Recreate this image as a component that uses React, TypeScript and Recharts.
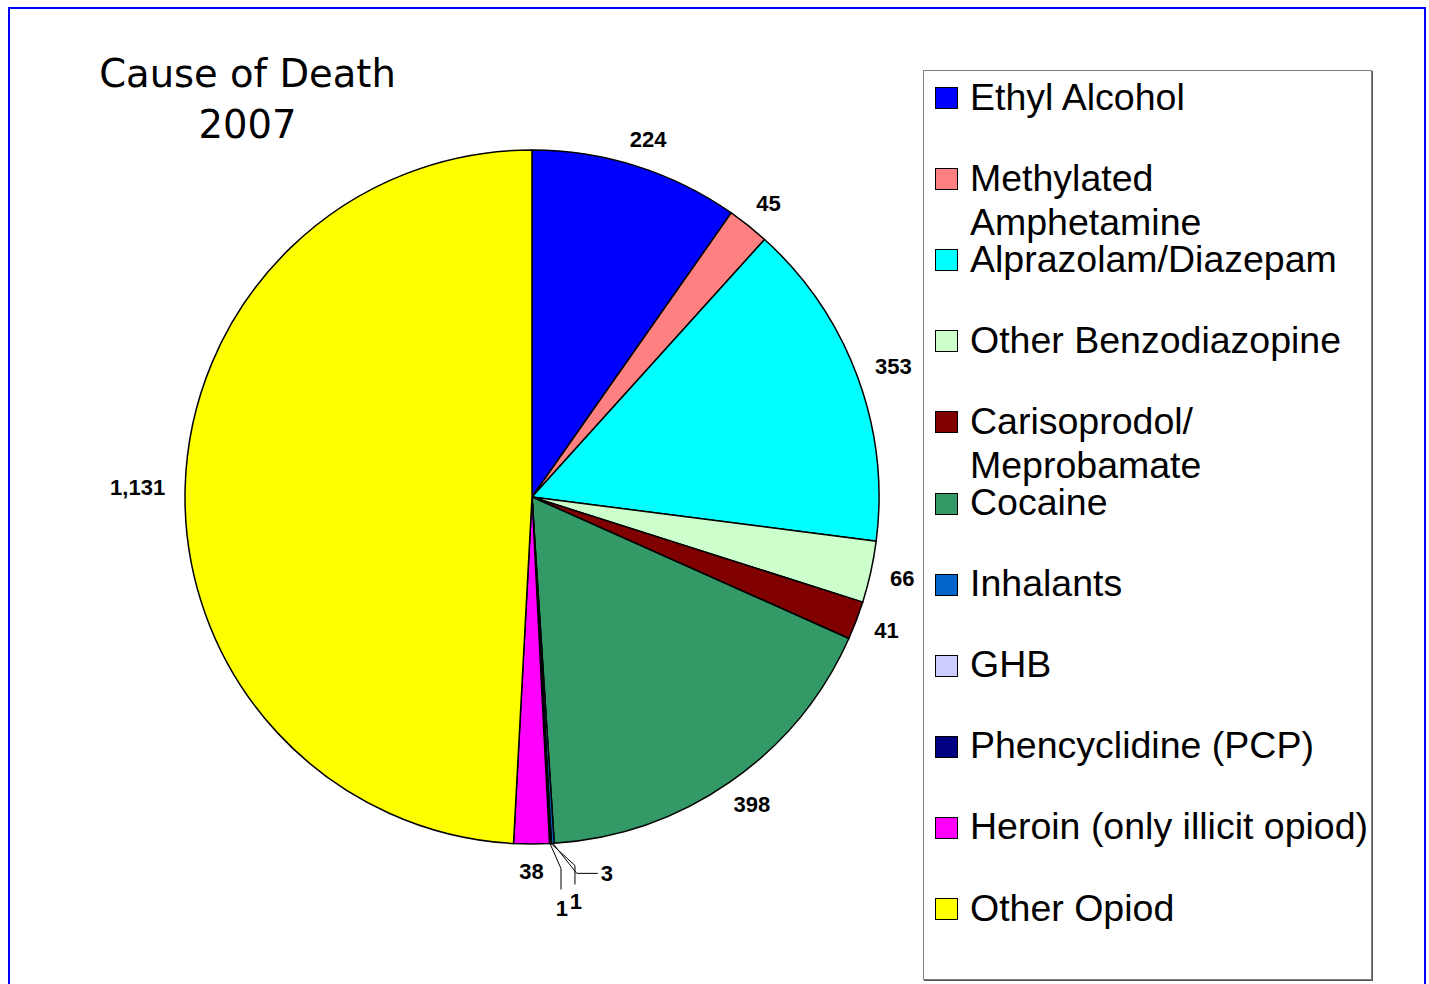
import { Cell, Legend, Pie, PieChart } from "recharts";

const causes = [
  "Ethyl Alcohol",
  "Methylated Amphetamine",
  "Alprazolam/Diazepam",
  "Other Benzodiazopine",
  "Carisoprodol/ Meprobamate",
  "Cocaine",
  "Inhalants",
  "GHB",
  "Phencyclidine (PCP)",
  "Heroin (only illicit opiod)",
  "Other Opiod",
];
const deaths = [224, 45, 353, 66, 41, 398, 3, 1, 1, 38, 1131];
const colors = [
  "#0000FF",
  "#FF8080",
  "#00FFFF",
  "#CCFFCC",
  "#800000",
  "#339966",
  "#0066CC",
  "#CCCCFF",
  "#000080",
  "#FF00FF",
  "#FFFF00",
];

const chartData = causes.map((name, i) => ({ name, value: deaths[i] }));

const RAD = Math.PI / 180;
const LABEL_GAP = 20;
const LABEL_FONT = 22;

// leader lines for the tiny slices at the bottom: elbow, end, text offset from slice edge
const leaders: Record<number, { elbow: [number, number]; end: [number, number]; text: [number, number]; anchor: string }> = {
  6: { elbow: [24, 30], end: [45, 30], text: [48, 30], anchor: "start" },
  7: { elbow: [24, 22], end: [24, 41], text: [25, 58], anchor: "middle" },
  8: { elbow: [11, 25], end: [11, 46], text: [12, 65], anchor: "middle" },
};

function textWidth(s: string) {
  let w = 0;
  for (const ch of s) w += ch === "," ? 0.278 : 0.556;
  return w * LABEL_FONT;
}

function renderLabel(props: any) {
  const { cx, cy, midAngle, outerRadius, value, index } = props;
  const cos = Math.cos(-midAngle * RAD);
  const sin = Math.sin(-midAngle * RAD);
  const ex = cx + outerRadius * cos;
  const ey = cy + outerRadius * sin;
  const text = Number(value).toLocaleString("en-US");
  const style = {
    fontFamily: "'Liberation Sans', Arial, sans-serif",
    fontWeight: 700,
    fontSize: LABEL_FONT,
    fill: "#000",
  };
  const ld = leaders[index];
  if (ld) {
    return (
      <g>
        <polyline
          points={`${ex},${ey} ${ex + ld.elbow[0]},${ey + ld.elbow[1]} ${ex + ld.end[0]},${ey + ld.end[1]}`}
          fill="none"
          stroke="#000"
          strokeWidth={1}
        />
        <text
          x={ex + ld.text[0]}
          y={ey + ld.text[1]}
          textAnchor={ld.anchor}
          dominantBaseline="central"
          style={style}
        >
          {text}
        </text>
      </g>
    );
  }
  const halfW = textWidth(text) / 2;
  const halfH = 8;
  const x = cx + (outerRadius + LABEL_GAP) * cos + halfW * cos;
  const y = cy + (outerRadius + LABEL_GAP) * sin + halfH * sin;
  return (
    <text x={x} y={y} textAnchor="middle" dominantBaseline="central" style={style}>
      {text}
    </text>
  );
}

const ITEM_STEP = 81.1;

function LegendBox() {
  return (
    <div
      style={{
        position: "relative",
        width: 449,
        height: 910,
        boxSizing: "border-box",
        border: "1px solid #7f7f7f",
        boxShadow: "1px 1px 0 #555",
        background: "#fff",
        fontFamily: "'Liberation Sans', Arial, sans-serif",
        fontSize: 37.5,
        lineHeight: "44px",
        color: "#000",
      }}
    >
      {causes.map((name, i) => (
        <div
          key={name}
          style={{ position: "absolute", left: 0, top: 3.5 + i * ITEM_STEP, width: 449 }}
        >
          <div
            style={{
              position: "absolute",
              left: 11,
              top: 12.5,
              width: 23,
              height: 22,
              boxSizing: "border-box",
              background: colors[i],
              border: "1.5px solid #000",
            }}
          />
          <div style={{ position: "absolute", left: 46, top: 0, width: 412, whiteSpace: "normal" }}>
            {name}
          </div>
        </div>
      ))}
    </div>
  );
}

export default function App() {
  return (
    <div
      style={{
        position: "absolute",
        left: 0,
        top: 0,
        width: 1429,
        height: 984,
        background: "#fff",
        overflow: "hidden",
      }}
    >
      <div
        style={{
          position: "absolute",
          left: 8,
          top: 7,
          width: 1418,
          height: 1010,
          boxSizing: "border-box",
          border: "2px solid #0000FF",
        }}
      />
      <div
        style={{
          position: "absolute",
          left: 47.5,
          top: 48,
          width: 400,
          textAlign: "center",
          fontFamily: "'DejaVu Sans', Verdana, sans-serif",
          fontSize: 38.5,
          lineHeight: "51px",
          color: "#000",
        }}
      >
        Cause of Death
        <br />
        2007
      </div>
      <div style={{ position: "absolute", left: 0, top: 0 }}>
        <PieChart width={1429} height={984} margin={{ top: 0, right: 0, bottom: 0, left: 0 }}>
          <Pie
            data={chartData}
            dataKey="value"
            nameKey="name"
            cx={532}
            cy={497}
            outerRadius={347}
            startAngle={90}
            endAngle={-270}
            stroke="#000"
            strokeWidth={1.5}
            label={renderLabel}
            labelLine={false}
            isAnimationActive={false}
          >
            {chartData.map((d, i) => (
              <Cell key={d.name} fill={colors[i]} />
            ))}
          </Pie>
          <Legend
            layout="vertical"
            align="right"
            verticalAlign="top"
            content={() => <LegendBox />}
            wrapperStyle={{ left: 923, top: 70, width: 449, height: 910 }}
          />
        </PieChart>
      </div>
    </div>
  );
}
